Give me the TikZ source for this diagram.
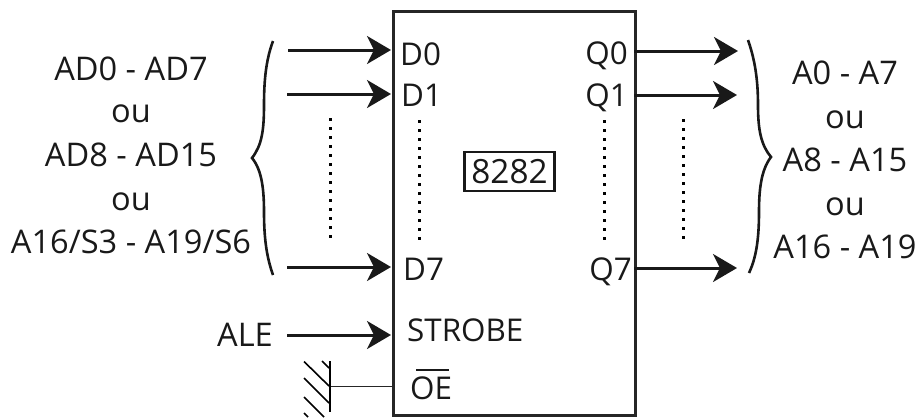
\documentclass[tikz,border=0pt]{standalone}
\usepackage{fontspec}
\setmainfont{Open Sans}
\usetikzlibrary{arrows.meta}
\tikzset{
  x=1bp,y=-1bp,
  lab/.style={inner sep=0pt,font=\fontsize{32.7}{36}\selectfont,text=black!90},
  pin/.style={inner sep=0pt,font=\fontsize{31.5}{36}\selectfont,text=black!90},
  sig/.style={line width=3bp,black!90,-{Stealth[length=24bp,width=28bp,inset=7bp]}},
  dots/.style={line width=3bp,black,dash pattern=on 3bp off 6bp},
  brace/.style={line width=2.6bp,black!90,line join=miter},
  hatch/.style={line width=1.6bp,black}
}
\begin{document}
\begin{tikzpicture}
\useasboundingbox (0,0) rectangle (920,417);
\node[draw=black!85,line width=2.8bp,minimum width=242bp,minimum height=404bp,inner sep=0pt,anchor=north west] (chip) at (392,10) {};
% labels
\node[lab,anchor=base] (l1) at (131,80) {AD0 - AD7};
\node[lab,anchor=base] (l2) at (131,122.7) {ou};
\node[lab,anchor=base] (l3) at (131,166.7) {AD8 - AD15};
\node[lab,anchor=base] (l4) at (131,210) {ou};
\node[lab,anchor=base] (l5) at (131,253) {A16/S3 - A19/S6};
\node[lab,anchor=base] (r1) at (845,84) {A0 - A7};
\node[lab,anchor=base] (r2) at (845,128) {ou};
\node[lab,anchor=base] (r3) at (845,171) {A8 - A15};
\node[lab,anchor=base] (r4) at (845,215) {ou};
\node[lab,anchor=base] (r5) at (845,258) {A16 - A19};
\node[pin,anchor=base west] (d0) at (400,65) {D0};
\node[pin,anchor=base west] (d1) at (401,106) {D1};
\node[pin,anchor=base west] (d7) at (403,280) {D7};
\node[pin,anchor=base west] (st) at (407,341) {STROBE};
\node[pin,anchor=base west] (oe) at (410,399) {OE};
\node[pin,anchor=base east] (q0) at (628,64) {Q0};
\node[pin,anchor=base east] (q1) at (628,106) {Q1};
\node[pin,anchor=base east] (q7) at (632,280) {Q7};
\node[lab,anchor=base east] (ale) at (273,346) {ALE};
\node[draw=black!90,line width=2.6bp,minimum width=90bp,minimum height=39bp,inner sep=0pt,font=\fontsize{33.5}{36}\selectfont,text=black!90] (n8282) at (509.5,171.5) {8282};
% connector ends
\coordinate (a0) at (288,50); \coordinate (b0) at (391,50);
\coordinate (a1) at (287,94); \coordinate (b1) at (391,94);
\coordinate (a7) at (287,267); \coordinate (b7) at (391,267);
\coordinate (as) at (287,335); \coordinate (bs) at (391,335);
\coordinate (c0) at (634,51); \coordinate (e0) at (738,51);
\coordinate (c1) at (634,95); \coordinate (e1) at (737,95);
\coordinate (c7) at (634,268); \coordinate (e7) at (737,268);
\draw[sig] (a0) -- (b0);
\draw[sig] (a1) -- (b1);
\draw[sig] (a7) -- (b7);
\draw[sig] (as) -- (bs);
\draw[sig] (c0) -- (e0);
\draw[sig] (c1) -- (e1);
\draw[sig] (c7) -- (e7);
% overline of OE
\draw[line width=1.8bp,black!90] (416,370) -- (449,370);
% dots
\draw[dots] (330,118) -- (330,238);
\draw[dots] (419,120) -- (419,240);
\draw[dots] (604,120) -- (604,240);
\draw[dots] (683,119) -- (683,239);
% braces
\draw[brace] (273,41) .. controls (266,60) and (264,80) .. (264,105)
  .. controls (264,130) and (262,145) .. (252,158)
  .. controls (262,170) and (264,190) .. (264,212)
  .. controls (264,240) and (267,258) .. (273,275);
\draw[brace] (748,40) .. controls (755,60) and (758,80) .. (758,105)
  .. controls (758,130) and (761,145) .. (771,157)
  .. controls (761,170) and (759,190) .. (759,212)
  .. controls (759,240) and (756,258) .. (749,273);
% ground
\coordinate (g) at (330,386.5);
\draw[line width=1.2bp,black!85] (g) -- (chip.west |- g);
\draw[line width=2.2bp,black] (330,361) -- (330,412);
\draw[hatch] (322,361) -- (329,368);
\draw[hatch] (304,361.5) -- (329,386);
\draw[hatch] (304,378) -- (329,403);
\draw[hatch] (304,397) -- (324,417);
\draw[hatch] (304,413) -- (308,417);
\end{tikzpicture}
\end{document}
